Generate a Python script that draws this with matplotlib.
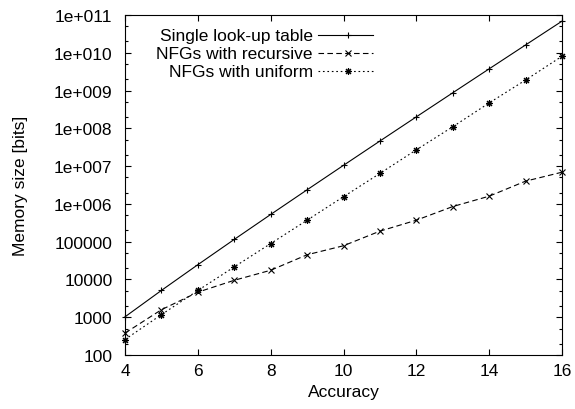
import matplotlib
matplotlib.use("Agg")
import matplotlib.pyplot as plt
from matplotlib.ticker import FixedLocator, FixedFormatter, LogLocator, NullFormatter

plt.rcParams['font.family'] = ['Liberation Sans', 'DejaVu Sans']

# data
accuracy = [4, 5, 6, 7, 8, 9, 10, 11, 12, 13, 14, 15, 16]
single_lut = [1024, 5120, 24576, 114688, 524288, 2359296, 10485760,
              46137344, 201326592, 872415232, 3758096384, 16106127360,
              68719476736]
nfg_recursive = [380, 1580, 4600, 9500, 17500, 45000, 78000,
                 190000, 370000, 850000, 1600000, 4000000, 6900000]
nfg_uniform = [257, 1170, 5100, 21500, 89000, 370000, 1550000,
               6400000, 27000000, 110000000, 470000000, 1900000000,
               8100000000]

series_names = ["Single look-up table", "NFGs with recursive", "NFGs with uniform"]
xticks = [4, 6, 8, 10, 12, 14, 16]
yticks = [1e2, 1e3, 1e4, 1e5, 1e6, 1e7, 1e8, 1e9, 1e10, 1e11]
ytick_labels = ["100", "1000", "10000", "100000", "1e+006", "1e+007",
                "1e+008", "1e+009", "1e+010", "1e+011"]

fig = plt.figure(figsize=(5.75, 4.1), dpi=100)
ax = fig.add_axes([125 / 575, 1 - 356 / 410, 437 / 575, 340 / 410])

lw = 0.8
styles = [
    dict(linestyle='-', marker='+'),
    dict(linestyle=(0, (5, 3)), marker='x'),
    dict(linestyle=(0, (1.5, 2.5)), marker=(8, 2, 0)),
]
all_series = [single_lut, nfg_recursive, nfg_uniform]

for vals, st in zip(all_series, styles):
    ax.plot(accuracy, vals, color='black', lw=lw, markersize=5,
            markeredgewidth=0.8, clip_on=False, **st)

ax.set_yscale('log')
ax.set_xlim(4, 16)
ax.set_ylim(1e2, 1e11)

ax.xaxis.set_major_locator(FixedLocator(xticks))
ax.yaxis.set_major_locator(FixedLocator(yticks))
ax.yaxis.set_major_formatter(FixedFormatter(ytick_labels))
ax.yaxis.set_minor_locator(LogLocator(base=10, subs=(2, 5), numticks=20))
ax.yaxis.set_minor_formatter(NullFormatter())

ax.tick_params(which='both', direction='in', top=True, right=True,
               labelsize=12.5, width=0.8)
ax.tick_params(which='major', length=4)
ax.tick_params(which='minor', length=2)
ax.tick_params(axis='x', pad=6)
ax.tick_params(axis='y', pad=9)
for s in ax.spines.values():
    s.set_linewidth(0.8)

ax.set_xlabel("Accuracy", fontsize=12.5, labelpad=4)
ax.set_ylabel("Memory size [bits]", fontsize=12.5)
ax.yaxis.set_label_coords(-0.222, 0.5)

# gnuplot style key: right-aligned text, sample line on the right
rows_y = [0.941, 0.888, 0.835]
for name, st, yy in zip(series_names, styles, rows_y):
    ax.text(0.430, yy, name, transform=ax.transAxes, ha='right',
            va='center', fontsize=12.5)
    ax.plot([0.4416, 0.5675], [yy, yy], transform=ax.transAxes,
            color='black', lw=lw, linestyle=st['linestyle'])
    ax.plot([0.51], [yy], transform=ax.transAxes, color='black',
            marker=st['marker'], markersize=5, markeredgewidth=0.8)

fig.savefig("out.png", dpi=100)
